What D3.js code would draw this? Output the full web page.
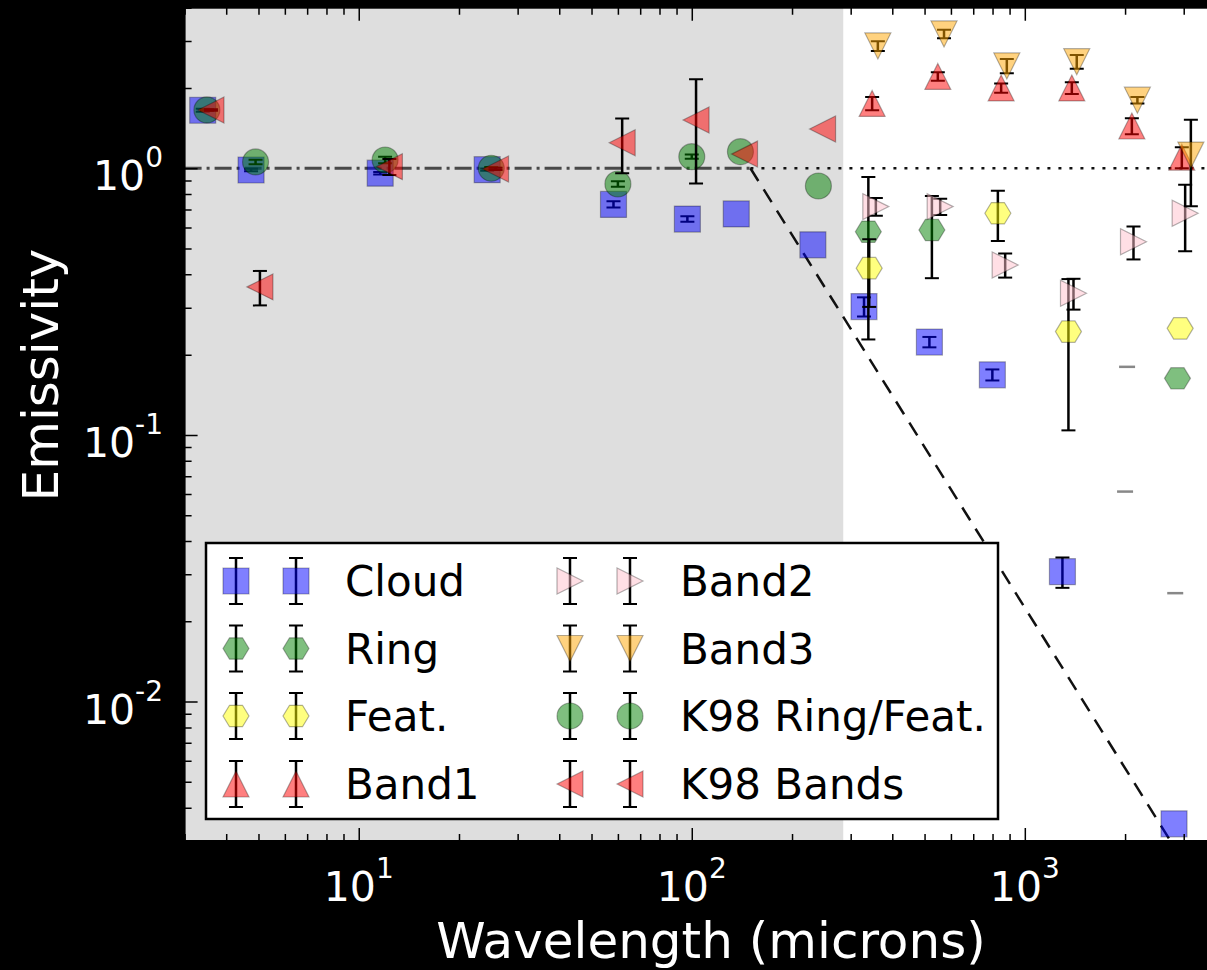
<!DOCTYPE html>
<html>
<head>
<meta charset="utf-8">
<script src="https://cdn.jsdelivr.net/npm/d3@7"></script>
<style>
body { margin: 0; background: #000; }
svg { display: block; font-family: "DejaVu Sans", sans-serif; }
</style>
</head>
<body>
<div id="container"></div>
<script>
"use strict";

// ---- data (wavelength in microns, emissivity) ----
var cloudX = [3.4, 4.75, 11.6, 24.3, 58.2, 97, 136, 231, 329, 517, 799, 1297, 2806];
var cloudY = [1.65, 0.985, 0.958, 0.988, 0.732, 0.645, 0.674, 0.516, 0.303, 0.223, 0.168, 0.0307, 0.00348];
var cloudErr = [0.02, 0.01, 0.01, 0.01, 0.02, 0.015, 0, 0, 0.025, 0.01, 0.008, 0.004, 0];

var ringX = [339, 526, 2873];
var ringY = [0.578, 0.587, 0.163];
var ringErr = [0.35, 0.2, 0];

var featX = [341, 830, 1352, 2927];
var featY = [0.422, 0.678, 0.244, 0.251];
var featErr = [0.12, 0.145, 0.14, 0];

var band1X = [348, 548, 849, 1384, 2096, 2961];
var band1Y = [1.75, 2.21, 2.0, 2.0, 1.44, 1.10];
var band1Err = [0.1, 0.08, 0.08, 0.1, 0.1, 0.1];

var band2X = [357, 557, 873, 1400, 2120, 3030];
var band2Y = [0.718, 0.718, 0.434, 0.34, 0.53, 0.678];
var band2Err = [0.055, 0.05, 0.045, 0.045, 0.075, 0.19];

var band3X = [362, 572, 883, 1432, 2178, 3152];
var band3Y = [2.875, 3.19, 2.42, 2.51, 1.8, 1.12];
var band3Err = [0.12, 0.12, 0.15, 0.15, 0.05, 0.4];

var k98rfX = [3.5, 4.9, 12, 25, 60, 100, 140, 240];
var k98rfY = [1.654, 1.056, 1.074, 1.0, 0.873, 1.105, 1.154, 0.858];
var k98rfErr = [0.01, 0.02, 0.03, 0.01, 0.02, 0.02, 0, 0];

var k98bX = [3.6, 5.05, 12.36, 25.75, 61.8, 103, 144, 247];
var k98bY = [1.654, 0.359, 1.014, 0.994, 1.247, 1.517, 1.13, 1.404];
var k98bErr = [0.01, 0.053, 0.07, 0.01, 0.29, 0.64, 0, 0];

// stray grey caps
var capX = [2028, 2000, 2829];
var capY = [0.18, 0.0613, 0.0255];

// model lines
var flatX = [3, 150];
var flatY = [1, 1];
var dotX = [150, 5000];
var dotY = [1, 1];
var slopeX = [150, 3000];
var slopeY = [1, 0.0025];
var shadeMax = 285;

var xTicks = [10, 100, 1000];
var xTickExp = ["1", "2", "3"];
var yTicks = [1, 0.1, 0.01];
var yTickExp = ["0", "-1", "-2"];

var width = 1207;
var height = 970;

var x = d3.scaleLog().domain([3, 5000]).range([184.6, 1257.6]);
var y = d3.scaleLog().domain([0.003, 4]).range([841, 7.7]);

var svg = d3.select("#container").append("svg")
    .attr("width", width).attr("height", height);
svg.append("rect").attr("width", width).attr("height", height).attr("fill", "#000");

var x0 = x.range()[0], x1 = x.range()[1], yTop = y.range()[1], yBot = y.range()[0];

svg.append("clipPath").attr("id", "clip").append("rect")
    .attr("x", x0).attr("y", yTop).attr("width", x1 - x0).attr("height", yBot - yTop);

var plot = svg.append("g").attr("clip-path", "url(#clip)");
plot.append("rect").attr("x", x0).attr("y", yTop).attr("width", x1 - x0).attr("height", yBot - yTop).attr("fill", "#fff");
plot.append("rect").attr("x", x0).attr("y", yTop).attr("width", x(shadeMax) - x0).attr("height", yBot - yTop).attr("fill", "#dedede");

var line = d3.line().x(function (d) { return x(d[0]); }).y(function (d) { return y(d[1]); });
function pairs(a, b) { return a.map(function (v, i) { return [v, b[i]]; }); }

plot.append("path").attr("d", line(pairs(dotX, dotY))).attr("fill", "none")
    .attr("stroke", "#111").attr("stroke-width", 2.6).attr("stroke-dasharray", "3,8");
plot.append("path").attr("d", line(pairs(flatX, flatY))).attr("fill", "none")
    .attr("stroke", "#222").attr("stroke-width", 3).attr("stroke-dasharray", "17,5,3,5").attr("opacity", 0.8);
plot.append("path").attr("d", line(pairs(slopeX, slopeY))).attr("fill", "none")
    .attr("stroke", "#111").attr("stroke-width", 2.5).attr("stroke-dasharray", "15,10");

function markerPath(shape, s) {
    var h = s / 2;
    if (shape === "square") return "M" + -h + "," + -h + "H" + h + "V" + h + "H" + -h + "Z";
    if (shape === "circle") return "M" + -h + ",0A" + h + "," + h + " 0 1,0 " + h + ",0A" + h + "," + h + " 0 1,0 " + -h + ",0Z";
    if (shape === "hex") {
        var p = d3.range(6).map(function (i) {
            var a = Math.PI / 3 * i;
            return [h * Math.cos(a), h * Math.sin(a) * 0.95];
        });
        return "M" + p.join("L") + "Z";
    }
    if (shape === "up") return "M0," + -h + "L" + h + "," + h + "L" + -h + "," + h + "Z";
    if (shape === "down") return "M0," + h + "L" + h + "," + -h + "L" + -h + "," + -h + "Z";
    if (shape === "right") return "M" + h + ",0L" + -h + "," + -h + "L" + -h + "," + h + "Z";
    return "M" + -h + ",0L" + h + "," + -h + "L" + h + "," + h + "Z";
}

var series = [
    { name: "Cloud", xs: cloudX, ys: cloudY, err: cloudErr, color: "#0000ff", shape: "square", size: 26 },
    { name: "Ring", xs: ringX, ys: ringY, err: ringErr, color: "#008000", shape: "hex", size: 26 },
    { name: "Feat.", xs: featX, ys: featY, err: featErr, color: "#ffff00", shape: "hex", size: 26 },
    { name: "Band1", xs: band1X, ys: band1Y, err: band1Err, color: "#ff0000", shape: "up", size: 26 },
    { name: "Band2", xs: band2X, ys: band2Y, err: band2Err, color: "#ffc0cb", shape: "right", size: 26 },
    { name: "Band3", xs: band3X, ys: band3Y, err: band3Err, color: "#ffa500", shape: "down", size: 26 },
    { name: "K98 Ring/Feat.", xs: k98rfX, ys: k98rfY, err: k98rfErr, color: "#008000", shape: "circle", size: 26 },
    { name: "K98 Bands", xs: k98bX, ys: k98bY, err: k98bErr, color: "#ff0000", shape: "left", size: 26 }
];

function drawErr(g, cx, yLo, yHi) {
    g.append("line").attr("x1", cx).attr("x2", cx).attr("y1", yLo).attr("y2", yHi)
        .attr("stroke", "#000").attr("stroke-width", 2.5);
    [yLo, yHi].forEach(function (yy) {
        g.append("line").attr("x1", cx - 7).attr("x2", cx + 7).attr("y1", yy).attr("y2", yy)
            .attr("stroke", "#000").attr("stroke-width", 2);
    });
}

function drawMarker(g, s, cx, cy) {
    g.append("path").attr("d", markerPath(s.shape, s.size))
        .attr("transform", "translate(" + cx + "," + cy + ")")
        .attr("fill", s.color).attr("fill-opacity", 0.5)
        .attr("stroke", "#000").attr("stroke-opacity", 0.3).attr("stroke-width", 1.2);
}

series.forEach(function (s) {
    var g = plot.append("g").attr("class", "series");
    s.xs.forEach(function (v, i) {
        if (s.err[i] > 0) drawErr(g, x(v), y(s.ys[i] - s.err[i]), y(s.ys[i] + s.err[i]));
    });
    s.xs.forEach(function (v, i) {
        drawMarker(g, s, x(v), y(s.ys[i]));
    });
});

plot.append("g").selectAll("line").data(capX).enter().append("line")
    .attr("x1", function (d) { return x(d) - 8; })
    .attr("x2", function (d) { return x(d) + 8; })
    .attr("y1", function (d, i) { return y(capY[i]); })
    .attr("y2", function (d, i) { return y(capY[i]); })
    .attr("stroke", "#888").attr("stroke-width", 2.5);

// ticks, inside the axes
function minorOf(scale) {
    var d = scale.domain(), out = [];
    for (var e = Math.floor(Math.log10(d[0])); e <= Math.ceil(Math.log10(d[1])); e++) {
        for (var m = 2; m <= 9; m++) {
            var v = m * Math.pow(10, e);
            if (v >= d[0] && v <= d[1]) out.push(v);
        }
    }
    return out;
}

var tickG = svg.append("g").attr("clip-path", "url(#clip)");
function addAxis(axisFn, scale, vals, size, transform) {
    var a = tickG.append("g").attr("transform", transform)
        .call(axisFn(scale).tickValues(vals).tickSize(size).tickFormat(""));
    a.select(".domain").remove();
    a.selectAll("line").attr("stroke", "#000").attr("stroke-width", 1.5);
}
addAxis(d3.axisBottom, x, minorOf(x), -7, "translate(0," + yBot + ")");
addAxis(d3.axisBottom, x, xTicks, -13, "translate(0," + yBot + ")");
addAxis(d3.axisTop, x, minorOf(x), -7, "translate(0," + yTop + ")");
addAxis(d3.axisTop, x, xTicks, -13, "translate(0," + yTop + ")");
addAxis(d3.axisLeft, y, minorOf(y), -7, "translate(" + x0 + ",0)");
addAxis(d3.axisLeft, y, yTicks, -13, "translate(" + x0 + ",0)");

svg.append("rect").attr("x", x0).attr("y", yTop).attr("width", x1 - x0).attr("height", yBot - yTop)
    .attr("fill", "none").attr("stroke", "#000").attr("stroke-width", 2);

// tick labels
xTicks.forEach(function (v, i) {
    var t = svg.append("text").attr("x", x(v)).attr("y", 901).attr("text-anchor", "middle")
        .attr("fill", "#fff").attr("font-size", 41);
    t.append("tspan").text("10");
    t.append("tspan").attr("font-size", 28).attr("dy", -23).text(xTickExp[i]);
});
yTicks.forEach(function (v, i) {
    var t = svg.append("text").attr("x", 163).attr("y", y(v) + 22).attr("text-anchor", "end")
        .attr("fill", "#fff").attr("font-size", 41);
    t.append("tspan").text("10");
    t.append("tspan").attr("font-size", 28).attr("dy", -23).text(yTickExp[i]);
});

svg.append("text").attr("x", 711).attr("y", 958).attr("text-anchor", "middle")
    .attr("fill", "#fff").attr("font-size", 50).text("Wavelength (microns)");
svg.append("text").attr("transform", "translate(58,375) rotate(-90)").attr("text-anchor", "middle")
    .attr("fill", "#fff").attr("font-size", 50).text("Emissivity");

// legend
var legend = svg.append("g").attr("class", "legend");
legend.append("rect").attr("x", 206).attr("y", 543).attr("width", 792).attr("height", 276)
    .attr("fill", "#fff").attr("stroke", "#000").attr("stroke-width", 2.5);
var rowY = [581, 648.5, 716, 784];
var colMark = [[236, 296], [570, 630]];
var colText = [345, 680];
series.forEach(function (s, i) {
    var col = Math.floor(i / 4), row = i % 4, cy = rowY[row];
    var g = legend.append("g");
    colMark[col].forEach(function (cx) {
        drawErr(g, cx, cy + 23, cy - 23);
        drawMarker(g, s, cx, cy);
    });
    g.append("text").attr("x", colText[col]).attr("y", cy).attr("dy", "0.36em")
        .attr("font-size", 42).attr("fill", "#000").text(s.name);
});
</script>
</body>
</html>
